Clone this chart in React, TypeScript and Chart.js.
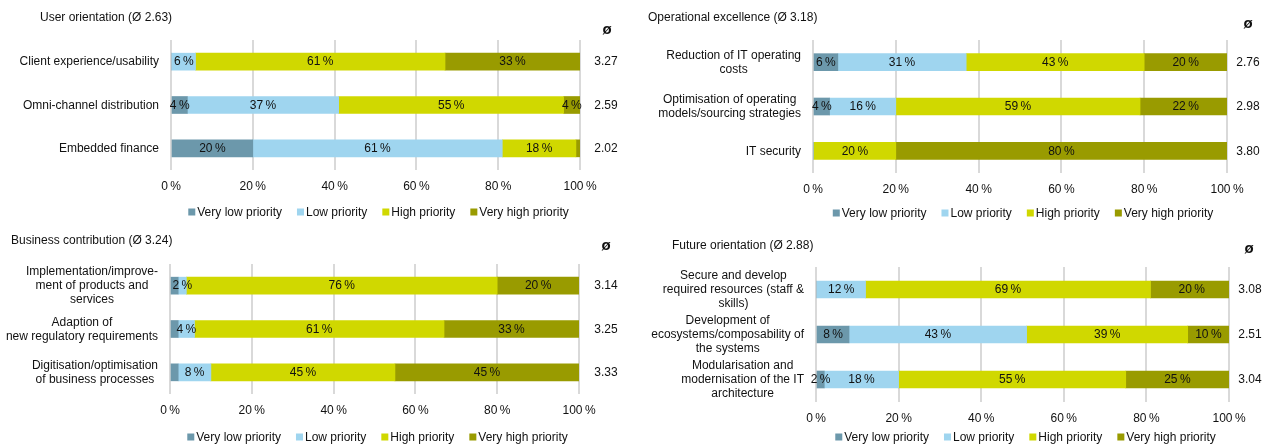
import React, { useEffect, useRef } from "react";
import { Chart, registerables } from "chart.js";

Chart.register(...registerables);

const FONT = "'Liberation Sans', Arial, sans-serif";
const TEXT = "#111111";

const seriesNames = ["Very low priority", "Low priority", "High priority", "Very high priority"];
const seriesColors = ["#6c98ab", "#9fd5ef", "#d0d800", "#999b00"];
const xTicks = [0, 20, 40, 60, 80, 100];

// Panel 1 - User orientation
const userTitle = "User orientation (Ø 2.63)";
const userCategories = [["Client experience/usability"], ["Omni-channel distribution"], ["Embedded finance"]];
const userVeryLow = [0, 4, 20];
const userLow = [6, 37, 61];
const userHigh = [61, 55, 18];
const userVeryHigh = [33, 4, 1];
const userMeans = ["3.27", "2.59", "2.02"];
const userHiddenLabels = [[3, 2]];

// Panel 2 - Operational excellence
const opsTitle = "Operational excellence (Ø 3.18)";
const opsCategories = [
  ["Reduction of IT operating", "costs"],
  ["Optimisation of operating", "models/sourcing strategies"],
  ["IT security"],
];
const opsVeryLow = [6, 4, 0];
const opsLow = [31, 16, 0];
const opsHigh = [43, 59, 20];
const opsVeryHigh = [20, 22, 80];
const opsMeans = ["2.76", "2.98", "3.80"];
const opsHiddenLabels: number[][] = [];

// Panel 3 - Business contribution
const bizTitle = "Business contribution (Ø 3.24)";
const bizCategories = [
  ["Implementation/improve-", "ment of products and", "services"],
  ["Adaption of", "new regulatory requirements"],
  ["Digitisation/optimisation", "of business processes"],
];
const bizVeryLow = [2, 2, 2];
const bizLow = [2, 4, 8];
const bizHigh = [76, 61, 45];
const bizVeryHigh = [20, 33, 45];
const bizMeans = ["3.14", "3.25", "3.33"];
const bizHiddenLabels = [[0, 0], [0, 1], [0, 2]];

// Panel 4 - Future orientation
const futTitle = "Future orientation (Ø 2.88)";
const futCategories = [
  ["Secure and develop", "required resources (staff &", "skills)"],
  ["Development of", "ecosystems/composability of", "the systems"],
  ["Modularisation and", "modernisation of the IT", "architecture"],
];
const futVeryLow = [0, 8, 2];
const futLow = [12, 43, 18];
const futHigh = [69, 39, 55];
const futVeryHigh = [20, 10, 25];
const futMeans = ["3.08", "2.51", "3.04"];
const futHiddenLabels: number[][] = [];

type PanelDef = {
  title: string;
  categories: string[][];
  values: number[][];
  means: string[];
  hidden: number[][];
  box: { left: number; top: number; width: number; height: number };
  layout: { left: number; top: number; right: number; bottom: number; xAxisH: number };
  titlePos: [number, number];
  symbolPos: [number, number];
  meanX: number;
  legendY: number;
};

const panels: PanelDef[] = [
  {
    title: userTitle,
    categories: userCategories,
    values: [userVeryLow, userLow, userHigh, userVeryHigh],
    means: userMeans,
    hidden: userHiddenLabels,
    box: { left: 0, top: 0, width: 634, height: 224 },
    layout: { left: 171, top: 40, right: 54, bottom: 24, xAxisH: 30 },
    titlePos: [40, 18],
    symbolPos: [607, 30],
    meanX: 606,
    legendY: 212,
  },
  {
    title: opsTitle,
    categories: opsCategories,
    values: [opsVeryLow, opsLow, opsHigh, opsVeryHigh],
    means: opsMeans,
    hidden: opsHiddenLabels,
    box: { left: 634, top: 0, width: 634, height: 224 },
    layout: { left: 179, top: 40, right: 41, bottom: 21, xAxisH: 30 },
    titlePos: [14, 18],
    symbolPos: [614, 24],
    meanX: 614,
    legendY: 213,
  },
  {
    title: bizTitle,
    categories: bizCategories,
    values: [bizVeryLow, bizLow, bizHigh, bizVeryHigh],
    means: bizMeans,
    hidden: bizHiddenLabels,
    box: { left: 0, top: 224, width: 634, height: 224 },
    layout: { left: 170, top: 40, right: 55, bottom: 24, xAxisH: 30 },
    titlePos: [11, 17],
    symbolPos: [606, 22],
    meanX: 606,
    legendY: 213,
  },
  {
    title: futTitle,
    categories: futCategories,
    values: [futVeryLow, futLow, futHigh, futVeryHigh],
    means: futMeans,
    hidden: futHiddenLabels,
    box: { left: 634, top: 224, width: 634, height: 224 },
    layout: { left: 182, top: 43, right: 39, bottom: 16, xAxisH: 30 },
    titlePos: [38, 22],
    symbolPos: [615, 25],
    meanX: 616,
    legendY: 213,
  },
];

const pct = (v: number) => `${v}\u2009%`;

function makeDecorPlugin(p: PanelDef) {
  return {
    id: "panelDecor",
    afterDatasetsDraw(chart: any) {
      const ctx = chart.ctx;
      ctx.save();
      ctx.font = `12px ${FONT}`;
      ctx.fillStyle = TEXT;
      ctx.textAlign = "center";
      ctx.textBaseline = "middle";
      chart.data.datasets.forEach((ds: any, di: number) => {
        const meta = chart.getDatasetMeta(di);
        meta.data.forEach((bar: any, ri: number) => {
          const v = ds.data[ri];
          if (!v) return;
          if (p.hidden.some((h) => h[0] === di && h[1] === ri)) return;
          const props = bar.getProps(["x", "y", "base"], true);
          const cx = (props.x + props.base) / 2;
          ctx.fillText(pct(v), cx, props.y + 0.5);
        });
      });
      ctx.restore();
    },
    afterDraw(chart: any) {
      const ctx = chart.ctx;
      const area = chart.chartArea;
      const yScale = chart.scales.y;
      ctx.save();
      ctx.fillStyle = TEXT;
      ctx.textBaseline = "middle";

      // title
      ctx.font = `12px ${FONT}`;
      ctx.textAlign = "left";
      ctx.fillText(p.title, p.titlePos[0], p.titlePos[1]);

      // mean header
      ctx.font = `bold 15px ${FONT}`;
      ctx.textAlign = "center";
      ctx.fillText("ø", p.symbolPos[0], p.symbolPos[1]);

      // category labels & means
      ctx.font = `12px ${FONT}`;
      const lineH = 14;
      p.categories.forEach((lines, i) => {
        const y = yScale.getPixelForValue(i);
        const maxW = Math.max(...lines.map((l) => ctx.measureText(l).width));
        const cx = area.left - 12 - maxW / 2;
        ctx.textAlign = "center";
        lines.forEach((l, li) => {
          ctx.fillText(l, cx, y + (li - (lines.length - 1) / 2) * lineH + 0.5);
        });
        ctx.fillText(p.means[i], p.meanX, y + 0.5);
      });

      // legend
      const box = 7;
      const gapBoxText = 2;
      const gapItems = 15;
      const widths = seriesNames.map((n) => box + gapBoxText + ctx.measureText(n).width);
      const total = widths.reduce((a, b) => a + b, 0) + gapItems * (seriesNames.length - 1);
      let x = (area.left + area.right) / 2 + 3 - total / 2;
      ctx.textAlign = "left";
      seriesNames.forEach((n, i) => {
        ctx.fillStyle = seriesColors[i];
        ctx.fillRect(x, p.legendY - 3.5, box, box);
        ctx.fillStyle = TEXT;
        ctx.fillText(n, x + box + gapBoxText, p.legendY + 0.5);
        x += widths[i] + gapItems;
      });
      ctx.restore();
    },
  };
}

function Panel({ p }: { p: PanelDef }) {
  const ref = useRef<HTMLCanvasElement | null>(null);
  useEffect(() => {
    if (!ref.current) return;
    const chart = new Chart(ref.current, {
      type: "bar",
      data: {
        labels: p.categories.map((c) => c.join(" ")),
        datasets: p.values.map((vals, i) => ({
          label: seriesNames[i],
          data: vals,
          backgroundColor: seriesColors[i],
          borderWidth: 0,
          barThickness: 17,
        })),
      },
      options: {
        indexAxis: "y",
        responsive: false,
        animation: false,
        devicePixelRatio: 1,
        layout: {
          padding: { left: 0, top: p.layout.top, right: p.layout.right, bottom: p.layout.bottom },
        },
        scales: {
          x: {
            stacked: true,
            min: 0,
            max: 100,
            position: "bottom",
            grid: { color: "#d9d9d9", lineWidth: 2, drawTicks: false },
            border: { display: false },
            afterBuildTicks: (s: any) => {
              s.ticks = xTicks.map((v) => ({ value: v }));
            },
            ticks: {
              padding: 9,
              color: TEXT,
              maxRotation: 0,
              font: { family: FONT, size: 12 },
              callback: (v: any) => pct(v),
            },
            afterFit: (s: any) => {
              s.height = p.layout.xAxisH;
            },
          },
          y: {
            stacked: true,
            grid: { display: false },
            border: { display: false },
            ticks: { display: false },
            afterFit: (s: any) => {
              s.width = p.layout.left;
            },
          },
        },
        plugins: {
          legend: { display: false },
          tooltip: { enabled: false },
          title: { display: false },
        },
      } as any,
      plugins: [makeDecorPlugin(p)],
    });
    return () => chart.destroy();
  }, [p]);
  return (
    <canvas
      ref={ref}
      width={p.box.width}
      height={p.box.height}
      style={{
        position: "absolute",
        left: p.box.left,
        top: p.box.top,
        width: p.box.width,
        height: p.box.height,
      }}
    />
  );
}

export default function App() {
  return (
    <div
      style={{
        position: "fixed",
        left: 0,
        top: 0,
        width: 1268,
        height: 448,
        background: "#ffffff",
      }}
    >
      {panels.map((p, i) => (
        <Panel key={i} p={p} />
      ))}
    </div>
  );
}
